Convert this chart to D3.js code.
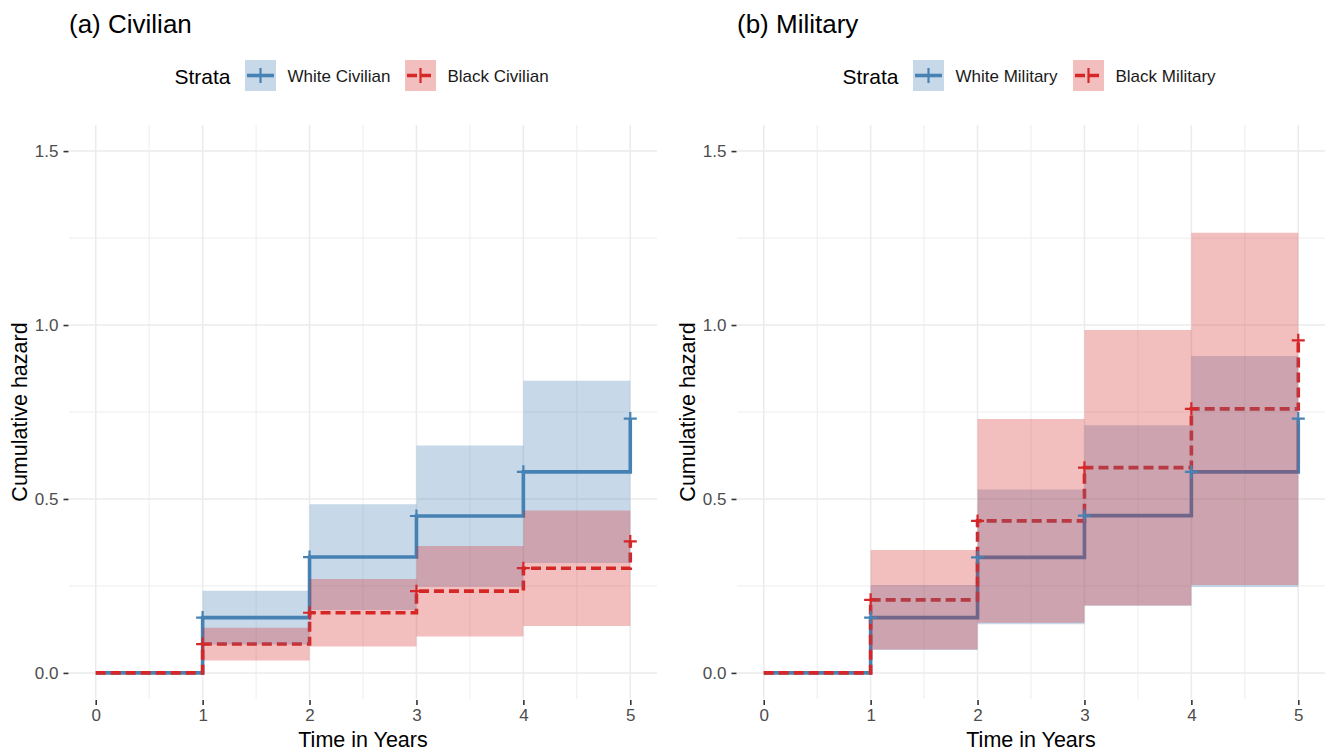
<!DOCTYPE html>
<html>
<head>
<meta charset="utf-8">
<script src="https://cdn.jsdelivr.net/npm/d3@7"></script>
<style>
  html, body { margin: 0; padding: 0; background: #fff; }
  svg { display: block; font-family: "Liberation Sans", Arial, Helvetica, sans-serif; }
</style>
</head>
<body>
<svg id="chart" width="1326" height="752"></svg>
<script>
// ---------------- data ----------------
const times = [0, 1, 2, 3, 4, 5];
const yTicks = [0, 0.5, 1.0, 1.5];
const yTickLabels = ["0.0", "0.5", "1.0", "1.5"];
const xTicks = [0, 1, 2, 3, 4, 5];
const xTickLabels = ["0", "1", "2", "3", "4", "5"];

// (a) Civilian
const whiteCivHaz = [0, 0.159, 0.333, 0.451, 0.578, 0.731];
const whiteCivLo  = [0, 0.082, 0.181, 0.248, 0.316];
const whiteCivHi  = [0, 0.236, 0.485, 0.654, 0.840];
const blackCivHaz = [0, 0.083, 0.173, 0.235, 0.301, 0.378];
const blackCivLo  = [0, 0.036, 0.076, 0.105, 0.135];
const blackCivHi  = [0, 0.130, 0.270, 0.365, 0.467];

// (b) Military
const whiteMilHaz = [0, 0.159, 0.332, 0.452, 0.578, 0.731];
const whiteMilLo  = [0, 0.066, 0.140, 0.193, 0.247];
const whiteMilHi  = [0, 0.253, 0.527, 0.712, 0.911];
const blackMilHaz = [0, 0.210, 0.437, 0.590, 0.759, 0.956];
const blackMilLo  = [0, 0.067, 0.144, 0.194, 0.253];
const blackMilHi  = [0, 0.353, 0.730, 0.986, 1.265];

const panelTitles = ["(a) Civilian", "(b) Military"];
const legendTitle = "Strata";
const civLabels = ["White Civilian", "Black Civilian"];
const milLabels = ["White Military", "Black Military"];

const colorWhite = "#4682B4";
const colorBlack = "#D62728";

// ---------------- drawing ----------------
const svg = d3.select("#chart");

function drawPanel(offsetX, title, labels, series) {
  const g = svg.append("g");
  const x = d3.scaleLinear().domain([-0.25, 5.25]).range([69 + offsetX, 657 + offsetX]);
  const y = d3.scaleLinear().domain([-0.075, 1.575]).range([699, 125]);

  // grid
  const minorX = [0.5, 1.5, 2.5, 3.5, 4.5];
  const minorY = [0.25, 0.75, 1.25];
  g.selectAll(".gmx").data(minorX).enter().append("line")
    .attr("x1", d => x(d)).attr("x2", d => x(d)).attr("y1", 125).attr("y2", 699)
    .attr("stroke", "#EBEBEB").attr("stroke-width", 0.9);
  g.selectAll(".gmy").data(minorY).enter().append("line")
    .attr("y1", d => y(d)).attr("y2", d => y(d)).attr("x1", x.range()[0]).attr("x2", x.range()[1])
    .attr("stroke", "#EBEBEB").attr("stroke-width", 0.9);
  g.selectAll(".gx").data(xTicks).enter().append("line")
    .attr("x1", d => x(d)).attr("x2", d => x(d)).attr("y1", 125).attr("y2", 699)
    .attr("stroke", "#EBEBEB").attr("stroke-width", 1.5);
  g.selectAll(".gy").data(yTicks).enter().append("line")
    .attr("y1", d => y(d)).attr("y2", d => y(d)).attr("x1", x.range()[0]).attr("x2", x.range()[1])
    .attr("stroke", "#EBEBEB").attr("stroke-width", 1.5);

  // axes
  const xAxis = d3.axisBottom(x).tickValues(xTicks).tickFormat((d, i) => xTickLabels[i])
    .tickSize(5).tickPadding(4);
  const gx = g.append("g").attr("transform", "translate(0,700)").call(xAxis);
  gx.select(".domain").remove();
  gx.selectAll(".tick line").attr("stroke", "#333").attr("stroke-width", 1.6);
  gx.selectAll(".tick text").attr("fill", "#4D4D4D").attr("font-size", 17)
    .attr("font-family", "Liberation Sans, Arial, sans-serif").attr("dy", "0.71em");

  const yAxis = d3.axisLeft(y).tickValues(yTicks).tickFormat((d, i) => yTickLabels[i])
    .tickSize(5).tickPadding(5);
  const gy = g.append("g").attr("transform", `translate(${68.5 + offsetX},0)`).call(yAxis);
  gy.select(".domain").remove();
  gy.selectAll(".tick line").attr("stroke", "#333").attr("stroke-width", 1.6);
  gy.selectAll(".tick text").attr("fill", "#4D4D4D").attr("font-size", 17)
    .attr("font-family", "Liberation Sans, Arial, sans-serif");

  // axis titles
  g.append("text").attr("x", (x.range()[0] + x.range()[1]) / 2).attr("y", 747)
    .attr("text-anchor", "middle").attr("font-size", 21.5).attr("fill", "#000")
    .text("Time in Years");
  g.append("text").attr("transform", `translate(${27 + offsetX},${(125 + 699) / 2}) rotate(-90)`)
    .attr("text-anchor", "middle").attr("font-size", 21.5).attr("fill", "#000")
    .text("Cumulative hazard");

  // panel title
  g.append("text").attr("x", 69 + offsetX).attr("y", 33)
    .attr("font-size", 26).attr("fill", "#000").text(title);

  // step lines
  const line = d3.line().x(d => x(d[0])).y(d => y(d[1])).curve(d3.curveStepAfter);
  series.forEach(s => {
    const pts = times.map((t, i) => [t, s.haz[i]]);
    g.append("path").attr("d", line(pts)).attr("fill", "none")
      .attr("stroke", s.color).attr("stroke-width", 3.6)
      .attr("stroke-dasharray", s.dash ? "10,5" : null)
      .attr("stroke-linejoin", "miter").attr("stroke-linecap", "butt");
  });

  // ribbons (drawn on top of lines)
  const area = d3.area().x(d => x(d[0])).y0(d => y(d[1])).y1(d => y(d[2])).curve(d3.curveStepAfter);
  series.forEach(s => {
    const pts = s.lo.map((v, i) => [times[i], v, s.hi[i]]);
    pts.push([times[times.length - 1], s.lo[s.lo.length - 1], s.hi[s.hi.length - 1]]);
    g.append("path").attr("d", area(pts.slice(1)))
      .attr("fill", s.color).attr("fill-opacity", 0.3);
  });

  // censor crosses
  series.forEach(s => {
    const pts = times.slice(1).map((t, i) => [t, s.haz[i + 1]]);
    g.selectAll(null).data(pts).enter().append("path")
      .attr("d", d => {
        const cx = x(d[0]), cy = y(d[1]);
        return `M${cx - 6.5},${cy}H${cx + 6.5}M${cx},${cy - 6.5}V${cy + 6.5}`;
      })
      .attr("stroke", s.color).attr("stroke-width", 2.2).attr("fill", "none");
  });

  // legend
  const lg = g.append("g");
  lg.append("text").attr("x", 174.5 + offsetX).attr("y", 83.5)
    .attr("font-size", 21).attr("fill", "#000").text(legendTitle);
  const keyX = [245 + offsetX, 405 + offsetX];
  series.forEach((s, i) => {
    const kx = keyX[i], ky = 60;
    lg.append("rect").attr("x", kx).attr("y", ky).attr("width", 31).attr("height", 31)
      .attr("fill", s.color).attr("fill-opacity", 0.3);
    lg.append("line").attr("x1", kx + 2).attr("x2", kx + 29).attr("y1", ky + 15.5).attr("y2", ky + 15.5)
      .attr("stroke", s.color).attr("stroke-width", 3.6)
      .attr("stroke-dasharray", s.dash ? "10,4" : null);
    lg.append("line").attr("x1", kx + 15.5).attr("x2", kx + 15.5).attr("y1", ky + 8).attr("y2", ky + 23)
      .attr("stroke", s.color).attr("stroke-width", 2.2);
    lg.append("text").attr("x", kx + 42.5).attr("y", ky + 22)
      .attr("font-size", 17).attr("fill", "#1A1A1A").text(labels[i]);
  });
}

drawPanel(0, panelTitles[0], civLabels, [
  { haz: whiteCivHaz, lo: whiteCivLo, hi: whiteCivHi, color: colorWhite, dash: false },
  { haz: blackCivHaz, lo: blackCivLo, hi: blackCivHi, color: colorBlack, dash: true }
]);
drawPanel(668, panelTitles[1], milLabels, [
  { haz: whiteMilHaz, lo: whiteMilLo, hi: whiteMilHi, color: colorWhite, dash: false },
  { haz: blackMilHaz, lo: blackMilLo, hi: blackMilHi, color: colorBlack, dash: true }
]);
</script>
</body>
</html>
